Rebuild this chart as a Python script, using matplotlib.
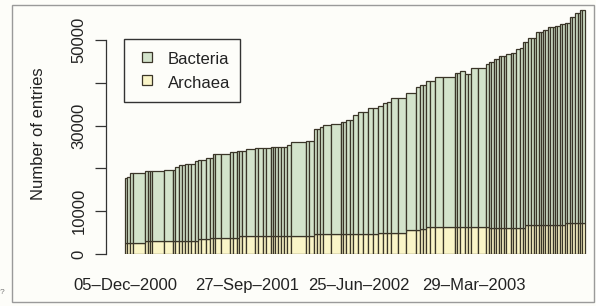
import numpy as np
import matplotlib
matplotlib.use("Agg")
import matplotlib.pyplot as plt
import matplotlib.dates as mdates
from matplotlib.lines import Line2D
from matplotlib.patches import Rectangle

# release dates as day offsets from the first release (05-Dec-2000)
start_date = "2000-12-05"
release_day = [0, 5, 12, 19, 48, 56, 61, 65, 94, 116, 121, 131, 138, 145, 152, 160,
               169, 177, 184, 196, 206, 213, 218, 232, 254, 261, 271, 276, 283, 293,
               315, 322, 334, 341, 353, 358, 363, 370, 378, 385, 392, 402, 438, 445,
               457, 465, 472, 479, 499, 523, 528, 535, 545, 552, 564, 576, 588, 600,
               612, 624, 634, 644, 661, 680, 704, 714, 721, 728, 738, 750, 770, 799,
               803, 811, 823, 830, 837, 854, 874, 881, 886, 893, 898, 905, 910, 917,
               922, 934, 939, 946, 956, 963, 968, 975, 983, 990, 995, 1002, 1006, 1012,
               1016, 1024, 1028, 1036, 1041, 1045, 1053, 1057, 1065, 1070, 1077, 1082,
               1089, 1096, 1101, 1106]
last_day = 1113

# total entries (Bacteria + Archaea) per release
total_entries = [17800, 18000, 19000, 19000, 19400, 19400, 19400, 19400, 19600, 19600,
                 20300, 20800, 20800, 21000, 21000, 21000, 21700, 22000, 22000, 22500,
                 22500, 23400, 23400, 23400, 23900, 23900, 24100, 24100, 24100, 24600,
                 24800, 24800, 24800, 24800, 25000, 25000, 25000, 25000, 25000, 25000,
                 25500, 26200, 26400, 26400, 29300, 29300, 29700, 30200, 30400, 30900,
                 30900, 31300, 31300, 32500, 33200, 33200, 34200, 34200, 34700, 35300,
                 35500, 36500, 36500, 37700, 39100, 39600, 39600, 40500, 40500, 41500,
                 41500, 42300, 42300, 42700, 42200, 42200, 43600, 43600, 44500, 44800,
                 44800, 45700, 45700, 46200, 46200, 46200, 46800, 47000, 47000, 48000,
                 48200, 49600, 49600, 50500, 50500, 50500, 52000, 52000, 52000, 52400,
                 52400, 53100, 53100, 53100, 53400, 53400, 53800, 53800, 54100, 54100,
                 55400, 55400, 56300, 56300, 57000, 57000]

archaea = [2600] * 4 + [3000] * 13 + [3500] * 3 + [3800] * 7 + [4200] * 17 + \
          [4600] * 14 + [5000] * 5 + [5500] * 2 + [5900] * 2 + [6200] * 12 + \
          [6000] * 13 + [6700] * 16 + [7200] * 8

tick_dates = ["2000-12-05", "2001-09-27", "2002-06-25", "2003-03-29"]
tick_labels = ["05–Dec–2000", "27–Sep–2001", "25–Jun–2002", "29–Mar–2003"]

green = "#d3e3cb"
yellow = "#faf5c8"
edge = "#3a3528"

plt.rcParams["font.family"] = ["Liberation Sans", "DejaVu Sans"]

t0 = np.datetime64(start_date)
days = np.array(release_day + [last_day])
left = mdates.date2num(t0 + days[:-1].astype("timedelta64[D]"))
width = np.diff(days)
arch = np.array(archaea)
bact = np.array(total_entries) - arch

fig = plt.figure(figsize=(5.96, 3.06), dpi=100)
fig.patch.set_facecolor("#fdfdf9")
ax = fig.add_axes([106 / 596, 52 / 306, 484 / 596, 248 / 306])
ax.set_facecolor("none")

ax.bar(left, arch, width, align="edge", color=yellow, edgecolor=edge, linewidth=0.9)
ax.bar(left, bact, width, bottom=arch, align="edge", color=green, edgecolor=edge, linewidth=0.9)

t0n = mdates.date2num(t0)
ax.set_xlim(t0n - 46, t0n + 1125)
ax.set_ylim(0, 58000)

for s in ["top", "right", "bottom"]:
    ax.spines[s].set_visible(False)
ax.spines["left"].set_bounds(0, 50000)
ax.spines["left"].set_linewidth(0.9)
ax.spines["left"].set_color("#333333")

ax.set_yticks([0, 10000, 20000, 30000, 40000, 50000])
ax.set_yticklabels(["0", "10000", "", "30000", "", "50000"])
ax.tick_params(axis="y", length=8, width=0.9, color="#333333", pad=6, labelsize=12, labelcolor="#222222")
for lbl in ax.get_yticklabels():
    lbl.set_rotation(90)
    lbl.set_va("center")

ax.set_xticks(mdates.date2num(np.array(tick_dates, dtype="datetime64[D]")))
ax.set_xticklabels(tick_labels)
ax.tick_params(axis="x", length=0, pad=17, labelsize=12, labelcolor="#222222")

ax.set_ylabel("Number of entries", fontsize=12, color="#222222", va="center")
ax.yaxis.set_label_coords(-0.14, 0.484)

handles = [Line2D([], [], linestyle="none", marker="s", markersize=6.5, markerfacecolor=green,
                  markeredgecolor=edge, markeredgewidth=0.9, label="Bacteria"),
           Line2D([], [], linestyle="none", marker="s", markersize=6.5, markerfacecolor=yellow,
                  markeredgecolor=edge, markeredgewidth=0.9, label="Archaea")]
leg = ax.legend(handles=handles, loc="upper left", bbox_to_anchor=(0.037, 0.867),
                borderaxespad=0, fontsize=12, handlelength=1.62, handleheight=1.4,
                handletextpad=0.42, labelspacing=0.25, borderpad=0.6, fancybox=False,
                framealpha=1, facecolor="#fdfdf9", edgecolor="#333333")
leg.get_frame().set_linewidth(1.0)
for txt in leg.get_texts():
    txt.set_color("#222222")

fig.add_artist(Rectangle((12 / 596, 4 / 306), 582 / 596, 297 / 306, transform=fig.transFigure,
                         fill=False, edgecolor="#9a9a9a", linewidth=1.0))
fig.text(0.0, 1 - 292 / 306, "?", fontsize=6, color="#777777", va="center")

fig.savefig("out.png", dpi=100)
